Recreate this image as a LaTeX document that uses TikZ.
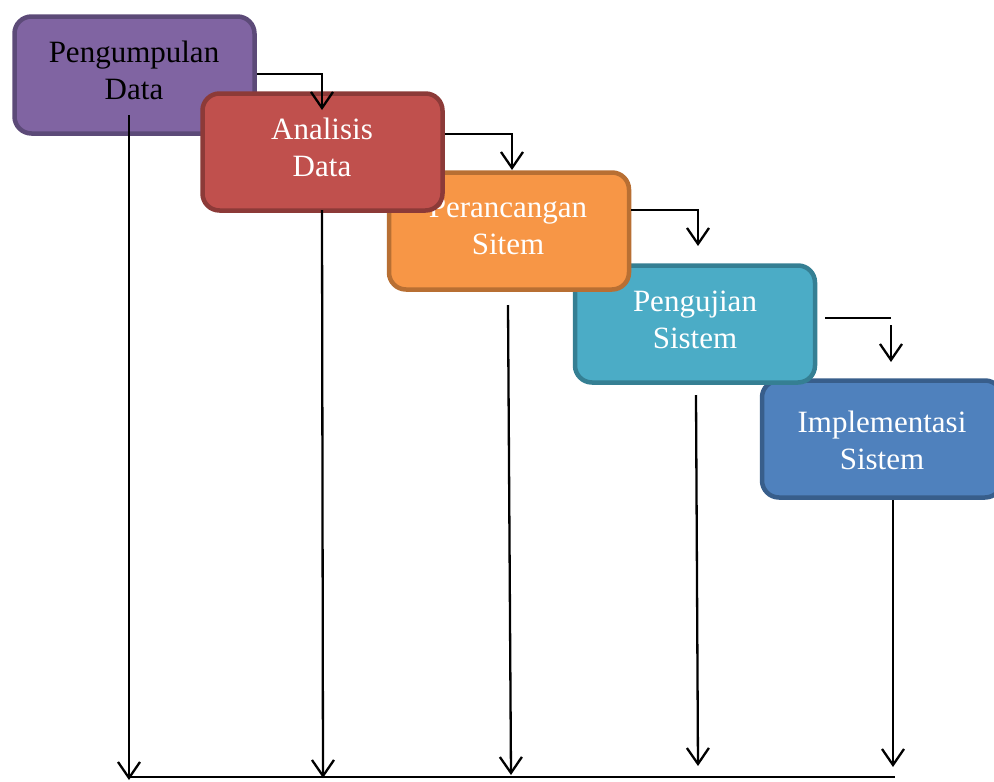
\documentclass[tikz,border=0pt]{standalone}
\usepackage{fontspec}
\setmainfont{Liberation Serif}
\usetikzlibrary{arrows.meta,calc}
\definecolor{purpf}{HTML}{8064A2}\definecolor{purpd}{HTML}{5C4A78}
\definecolor{redf}{HTML}{C0504D}\definecolor{redd}{HTML}{8C3A38}
\definecolor{orgf}{HTML}{F79646}\definecolor{orgd}{HTML}{B86F33}
\definecolor{tealf}{HTML}{4BACC6}\definecolor{teald}{HTML}{357F93}
\definecolor{bluef}{HTML}{4F81BD}\definecolor{blued}{HTML}{385E8B}
\tikzset{
  phase/.style={rectangle, rounded corners=17pt, line width=4.5pt, minimum width=240pt, minimum height=117pt, inner sep=0pt},
  lbl/.style={align=center, font=\fontsize{31}{37}\selectfont, inner sep=0pt, text=white},
  arr/.style={line width=2.3pt, -{Straight Barb[length=16pt,width=22pt]}},
  ln/.style={line width=2.3pt}
}
\begin{document}
\begin{tikzpicture}[x=1pt,y=-1pt]
\useasboundingbox (0,0) rectangle (994,782);
% boxes (drawing order matters for overlaps)
\node[phase, fill=purpf, draw=purpd] (b1) at (134.5,75) {};
\node[lbl, text=black] (t1) at (134,70) {Pengumpulan\\Data};
\node[phase, fill=bluef, draw=blued] (b5) at (882,439) {};
\node[lbl] (t5) at (882,440) {Implementasi\\Sistem};
\node[phase, fill=tealf, draw=teald] (b4) at (695,324) {};
\node[lbl] (t4) at (695,319.5) {Pengujian\\Sistem};
\node[phase, fill=orgf, draw=orgd] (b3) at (509,231) {};
\node[lbl] (t3) at (508,225.5) {Perancangan\\Sitem};
\node[phase, fill=redf, draw=redd] (b2) at (322.5,152) {};
\node[lbl] (t2) at (322,147) {Analisis\\Data};
% step connectors
\coordinate (k1) at (322,110);
\coordinate (k2) at (512,170);
\coordinate (k3) at (698,246);
\coordinate (h4a) at (825,318);
\coordinate (h4b) at (891,318);
\coordinate (v4a) at (891,325);
\coordinate (v4b) at (891,362);
\draw[arr] (b1.east |- 0,74) -| (k1);
\draw[arr] (b2.east |- 0,134) -| (k2);
\draw[arr] (b3.east |- 0,210) -| (k3);
\draw[ln] (h4a) -- (h4b);
\draw[arr] (v4a) -- (v4b);
% vertical feedback lines
\coordinate (s1) at (129,115);
\coordinate (e1) at (129,780);
\coordinate (s2) at (322,210);
\coordinate (e2) at (323,778);
\coordinate (s3) at (508,305);
\coordinate (e3) at (511,775);
\coordinate (s4) at (696,395);
\coordinate (e4) at (698,766);
\coordinate (s5) at (893,500);
\coordinate (e5) at (893,767);
\draw[arr] (s1) -- (e1);
\draw[arr] (s2) -- (e2);
\draw[arr] (s3) -- (e3);
\draw[arr] (s4) -- (e4);
\draw[arr] (s5) -- (e5);
\coordinate (bl) at (129,777);
\coordinate (br) at (895,777);
\draw[line width=2.5pt] (bl) -- (br);
\end{tikzpicture}
\end{document}
